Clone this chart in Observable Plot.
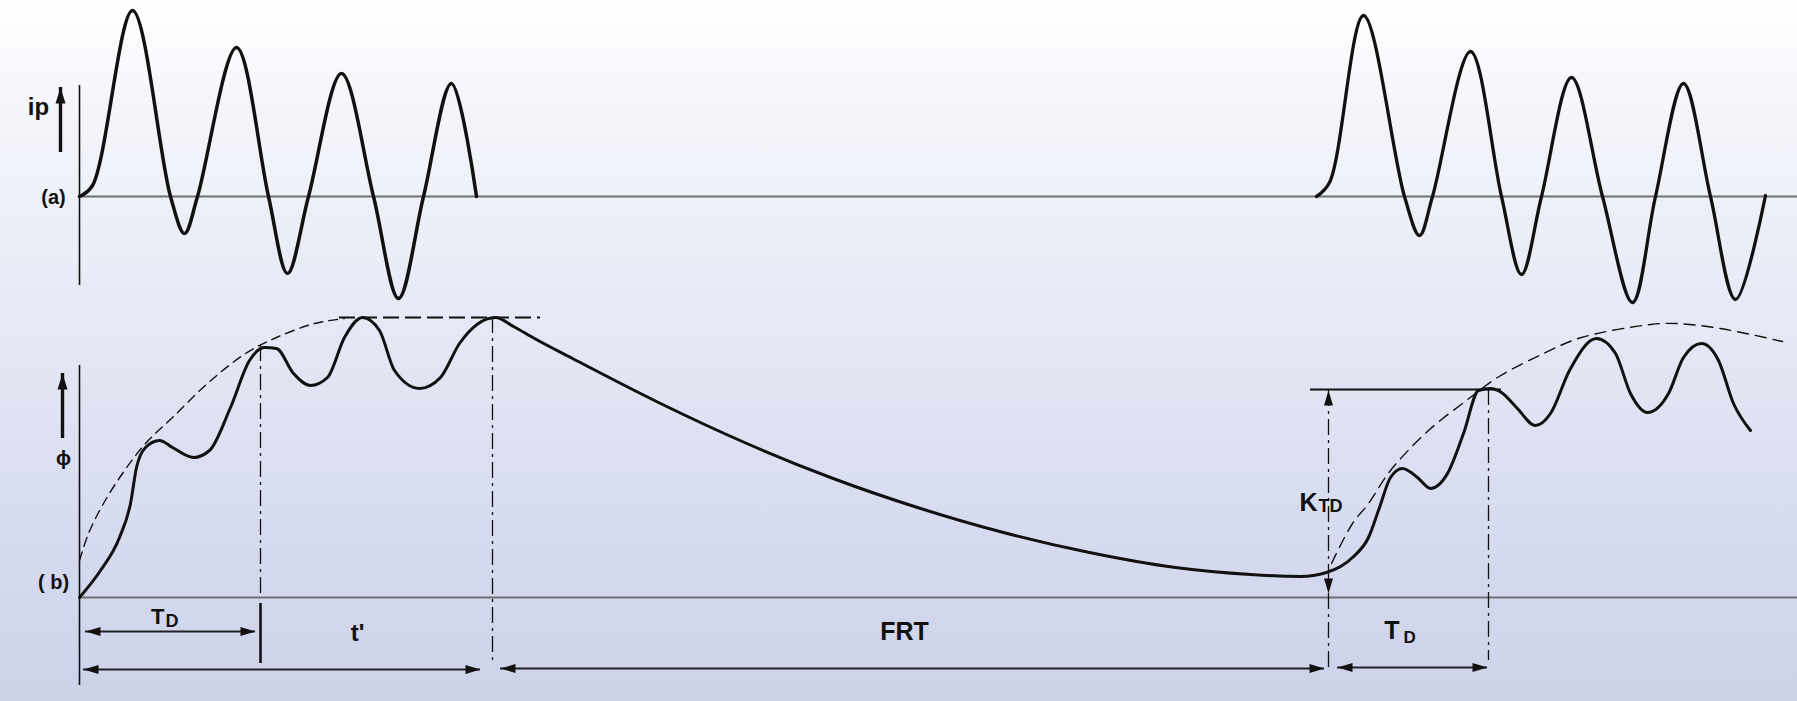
<!DOCTYPE html>
<html><head><meta charset="utf-8">
<script src="https://cdn.jsdelivr.net/npm/d3@7"></script>
<script src="https://cdn.jsdelivr.net/npm/@observablehq/plot@0.6"></script>
<style>
body{margin:0;background:#fff;}
#chart{position:relative;width:1797px;height:701px;overflow:hidden;
 background:linear-gradient(to bottom,#ffffff 0%,#f5f6fb 14%,#e6e9f5 45%,#d6dbef 75%,#ccd2ea 100%);}
#chart svg{position:absolute;left:0;top:0;}
</style></head><body><div id="chart"></div>
<script>
// ---- time axis (ms-like units) ----
const tDomain = [-7.9, 171.8];

// ---- panel (a): pulse current ip ----
const ipBurst1 = [[0,0],[1.3,1.1],[5.3,18.6],[9.1,0],[10.5,-3.7],[11.8,0],[15.7,14.9],[18.9,0],[20.8,-7.7],[22.9,0],[26.2,12.3],[29.4,0],[31.9,-10.2],[34.4,0],[37.2,11.3],[39.7,0]];
const ipBurst2 = [[123.7,0],[125.0,1.4],[128.4,18.1],[132.5,0],[134.0,-3.9],[135.3,0],[139.1,14.5],[142.2,0],[144.2,-7.8],[146.2,0],[149.2,11.9],[152.3,0],[155.3,-10.6],[157.6,0],[160.4,11.3],[163.1,0],[165.6,-10.3],[168.6,0.1]];
const ipDomain = [-50.5, 19.6];
const ipAxis = [{t:0, v1:-8.9, v2:11.1}];
const ipArrow = [{t:-1.9, v1:5.4, v2:10.9}];
const ipLabels = [{t:-4.1, v:8.9, text:"ip", size:24},{t:-2.6, v:-0.1, text:"(a)", size:20}];

// ---- panel (b): flux phi ----
const phiCurve = [[0,0],[2.1,2.7],[4.0,6.0],[5.1,9.4],[5.7,13.0],[6.6,15.0],[8.0,15.7],[9.3,15.0],[11.4,14.0],[13.0,14.7],[15.1,19.0],[17.0,23.7],[18.5,25.0],[19.7,24.9],[21.4,22.4],[23.1,21.2],[24.8,22.0],[26.5,26.0],[28.3,28.0],[30.0,26.7],[31.5,22.7],[34.0,20.9],[36.1,22.0],[38.0,25.4],[41.6,28.0],
 [43.4,27.1],[45.5,25.9],[49.3,23.9],[57.9,19.5],[66.5,15.5],[75.1,12.0],[83.8,9.0],[92.4,6.5],[101.0,4.5],[109.6,3.0],[117.1,2.3],[122.1,2.1],
 [124.7,2.5],[127.3,4.0],[128.9,6.0],[130.0,9.0],[131.1,12.0],[132.3,12.9],[133.8,12.0],[135.1,10.9],[136.8,12.4],[138.4,16.4],[139.9,20.7],[141.1,20.9],[142.2,20.5],[143.7,19.0],[145.6,17.2],[147.1,18.4],[149.0,22.7],[151.7,25.9],[153.6,24.4],[155.1,20.4],[156.8,18.5],[158.9,20.4],[160.4,24.0],[162.2,25.4],[163.9,23.7],[165.4,19.4],[167.1,16.7]];
const envelope1 = [[0,3.7],[0.9,6.4],[2.4,9.4],[4.3,12.4],[6.6,15.4],[9.3,18.0],[12.8,21.4],[16.6,24.4],[19.7,26.0],[23.5,27.4],[26.5,27.9]];
const envelope2 = [[125.2,3.4],[127.3,7.4],[128.9,9.4],[131.1,12.7],[134.9,16.7],[138.7,19.7],[141.8,22.0],[146.4,24.4],[150.2,26.0],[157.1,27.3],[159.7,27.4],[164.1,26.9],[170.3,25.6]];
const satLevel = [{v:28.0, t1:26.0, t2:46.1}];
const kLevel = [{v:20.8, t1:123.1, t2:142.2}];
const phiDomain = [-10.4, 59.7];
const phiAxis = [{t:0, v1:-8.8, v2:23.2}];
const phiArrow = [{t:-1.7, v1:16.9, v2:22.4}];
const markers = [{t:18.1, v1:25.2, v2:0},{t:41.3, v1:28.0, v2:-6.6},{t:124.9, v1:20.7, v2:-7.0},{t:140.9, v1:20.8, v2:-6.3}];
const tdTick = [{t:18.1, v1:-0.6, v2:-6.6}];
const kArrow = [{t:124.9, v1:0.4, v2:20.7}];
const spans = [{name:"TD", t1:0.6, t2:17.6, v:-3.4},{name:"t'", t1:0.4, t2:40.1, v:-7.2},{name:"FRT", t1:42.1, t2:124.5, v:-7.1},{name:"TD2", t1:125.8, t2:140.8, v:-7.0}];
const phiLabels = [{t:-1.6, v:13.9, text:"ϕ", size:20},{t:-2.6, v:1.5, text:"( b)", size:20},{t:27.8, v:-3.6, text:"t'", size:24},{t:82.5, v:-3.4, text:"FRT", size:25}];
const mainLabels = [{t:8.5, v:-1.95, text:"T", size:22},{t:123.8, v:9.45, text:"K", size:25},{t:132.0, v:-3.3, text:"T", size:25}];
const subLabels = [{t:8.6, v:-2.4, text:"D", size:18},{t:123.9, v:9.1, text:"TD", size:18},{t:132.4, v:-4.0, text:"D", size:17}];

const INK = "#111";
const FONT = "Liberation Sans, Arial, Helvetica, sans-serif";

function head(dir, L, W) {
  return {draw(ctx) {
    const h = W / 2;
    if (dir === "right") { ctx.moveTo(0,0); ctx.lineTo(-L,-h); ctx.lineTo(-L,h); }
    if (dir === "left")  { ctx.moveTo(0,0); ctx.lineTo(L,-h); ctx.lineTo(L,h); }
    if (dir === "up")    { ctx.moveTo(0,0); ctx.lineTo(-h,L); ctx.lineTo(h,L); }
    if (dir === "down")  { ctx.moveTo(0,0); ctx.lineTo(-h,-L); ctx.lineTo(h,-L); }
    ctx.closePath();
  }};
}

const base = {width:1797, height:701, margin:0, x:{domain:tDomain, axis:null},
  style:{background:"transparent", overflow:"visible"}};
const fontOpts = {fontFamily:FONT, fontWeight:"bold", fill:INK};

const plotA = Plot.plot({...base, y:{domain:ipDomain, axis:null}, marks:[
  Plot.ruleY([0], {x1:0, x2:tDomain[1], stroke:"#707070", strokeWidth:1.8}),
  Plot.ruleX(ipAxis, {x:"t", y1:"v1", y2:"v2", stroke:INK, strokeWidth:1.6}),
  Plot.line(ipBurst1, {curve:"catmull-rom", stroke:INK, strokeWidth:3.5}),
  Plot.line(ipBurst2, {curve:"catmull-rom", stroke:INK, strokeWidth:3.3}),
  Plot.ruleX(ipArrow, {x:"t", y1:"v1", y2:"v2", stroke:INK, strokeWidth:3.4, insetTop:10}),
  Plot.dot(ipArrow, {x:"t", y:"v2", symbol:head("up", 16, 10), fill:INK}),
  Plot.text(ipLabels, {x:"t", y:"v", text:"text", fontSize:"size", ...fontOpts, letterSpacing:1})
]});

const plotB = Plot.plot({...base, y:{domain:phiDomain, axis:null}, marks:[
  Plot.ruleY([0], {x1:0, x2:tDomain[1], stroke:"#707070", strokeWidth:1.8}),
  Plot.ruleX(phiAxis, {x:"t", y1:"v1", y2:"v2", stroke:INK, strokeWidth:1.6}),
  Plot.ruleX(phiArrow, {x:"t", y1:"v1", y2:"v2", stroke:INK, strokeWidth:3.4, insetTop:10}),
  Plot.dot(phiArrow, {x:"t", y:"v2", symbol:head("up", 16, 10), fill:INK}),
  Plot.line(envelope1, {curve:"catmull-rom", stroke:INK, strokeWidth:1.4, strokeDasharray:"9,6"}),
  Plot.line(envelope2, {curve:"catmull-rom", stroke:INK, strokeWidth:1.4, strokeDasharray:"11,7"}),
  Plot.ruleY(satLevel, {y:"v", x1:"t1", x2:"t2", stroke:INK, strokeWidth:2.2, strokeDasharray:"16,6"}),
  Plot.ruleX(markers, {x:"t", y1:"v1", y2:"v2", stroke:INK, strokeWidth:1.3, strokeDasharray:"16,5,3,5"}),
  Plot.ruleX(tdTick, {x:"t", y1:"v1", y2:"v2", stroke:INK, strokeWidth:2.6}),
  Plot.ruleY(kLevel, {y:"v", x1:"t1", x2:"t2", stroke:INK, strokeWidth:2}),
  Plot.dot(kArrow, {x:"t", y:"v2", symbol:head("up", 15, 9), fill:INK}),
  Plot.dot(kArrow, {x:"t", y:"v1", symbol:head("down", 15, 9), fill:INK}),
  Plot.line(phiCurve, {curve:"monotone-x", stroke:INK, strokeWidth:3}),
  Plot.ruleY(spans, {y:"v", x1:"t1", x2:"t2", stroke:"#222", strokeWidth:1.9}),
  Plot.dot(spans, {x:"t1", y:"v", symbol:head("left", 15, 9), fill:INK}),
  Plot.dot(spans, {x:"t2", y:"v", symbol:head("right", 15, 9), fill:INK}),
  Plot.text(phiLabels, {x:"t", y:"v", text:"text", fontSize:"size", ...fontOpts, letterSpacing:2}),
  Plot.text(mainLabels, {x:"t", y:"v", text:"text", fontSize:"size", textAnchor:"end", ...fontOpts}),
  Plot.text(subLabels, {x:"t", y:"v", text:"text", fontSize:"size", textAnchor:"start", ...fontOpts})
]});

const host = document.getElementById("chart");
host.append(plotA, plotB);
</script></body></html>
